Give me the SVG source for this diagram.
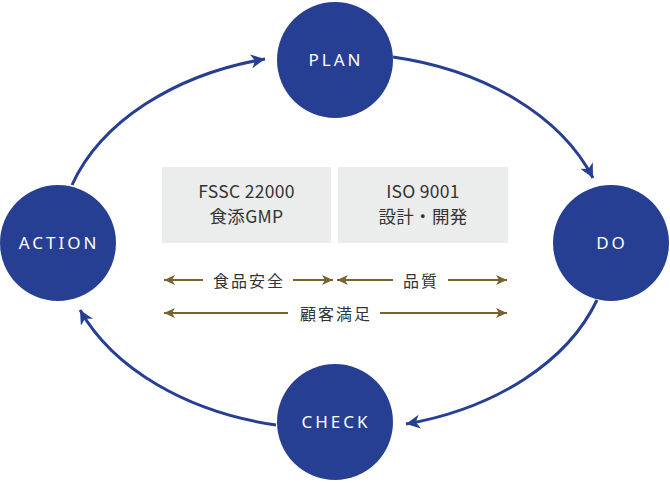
<svg xmlns="http://www.w3.org/2000/svg" width="670" height="483" viewBox="0 0 670 483">
<defs>
<style>
.node circle{fill:#263f93;}
.node text{fill:#fff;font-family:"Noto Sans","Noto Sans CJK JP",sans-serif;font-size:17px;letter-spacing:3px;text-anchor:middle;}
.box rect{fill:#ebecec;}
.box text{fill:#333;font-family:"Noto Sans CJK JP",sans-serif;font-size:17.5px;letter-spacing:0.3px;text-anchor:middle;}
.cyc{fill:none;stroke:#263f93;stroke-width:3;}
.gold{fill:none;stroke:#7a6230;stroke-width:2;}
.lbl{fill:#333;font-family:"Noto Sans CJK JP",sans-serif;font-size:16px;letter-spacing:2px;text-anchor:middle;}
</style>
<marker id="ab" markerUnits="userSpaceOnUse" markerWidth="16" markerHeight="14" refX="14" refY="7" orient="auto" viewBox="0 0 16 14">
<path d="M0,0 L14,7 L0,14 L4,7 Z" fill="#263f93"/>
</marker>
<marker id="ag" markerUnits="userSpaceOnUse" markerWidth="12" markerHeight="10" refX="11" refY="5" orient="auto-start-reverse" viewBox="0 0 12 10">
<path d="M0,0 L11,5 L0,10 L3,5 Z" fill="#7a6230"/>
</marker>
</defs>
<g id="connectors">
<path class="cyc" d="M393,57 A270,189 0 0 1 593,178" marker-end="url(#ab)"/>
<path class="cyc" d="M597,300 A270,189 0 0 1 406,424" marker-end="url(#ab)"/>
<path class="cyc" d="M276,425 A270,189 0 0 1 80,310" marker-end="url(#ab)"/>
<path class="cyc" d="M72,185 A270,189 0 0 1 265,59" marker-end="url(#ab)"/>
</g>
<g id="plan" class="node"><circle cx="335" cy="60" r="58"/><text x="336" y="66">PLAN</text></g>
<g id="do" class="node"><circle cx="611" cy="243" r="58"/><text x="612" y="249">DO</text></g>
<g id="check" class="node"><circle cx="335" cy="422" r="58"/><text x="336" y="428">CHECK</text></g>
<g id="action" class="node"><circle cx="58" cy="243" r="58"/><text x="59" y="249">ACTION</text></g>
<g id="box-fssc" class="box"><rect x="162" y="167" width="169" height="76"/><text x="246.5" y="198">FSSC 22000</text><text x="246.5" y="223">食添GMP</text></g>
<g id="box-iso" class="box"><rect x="338" y="167" width="170" height="76"/><text x="423" y="198">ISO 9001</text><text x="423" y="223">設計・開発</text></g>
<g id="scope-arrows">
<path class="gold" d="M203,280 H164" marker-end="url(#ag)"/>
<path class="gold" d="M293,280 H333" marker-end="url(#ag)"/>
<path class="gold" d="M393,280 H337" marker-end="url(#ag)"/>
<path class="gold" d="M448,280 H507" marker-end="url(#ag)"/>
<path class="gold" d="M288,313 H164" marker-end="url(#ag)"/>
<path class="gold" d="M380,313 H507" marker-end="url(#ag)"/>
<text class="lbl" x="249" y="287">食品安全</text>
<text class="lbl" x="421" y="287">品質</text>
<text class="lbl" x="336" y="320">顧客満足</text>
</g>
</svg>
